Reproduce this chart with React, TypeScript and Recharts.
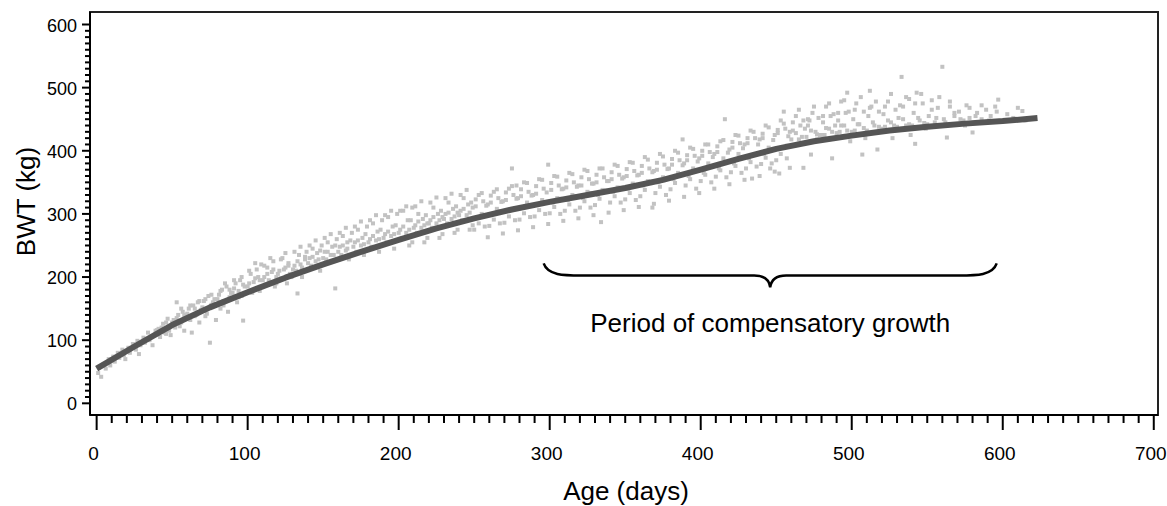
import {
  ComposedChart,
  ReferenceArea,
  ReferenceLine,
  Scatter,
  XAxis,
  YAxis,
} from "recharts"

// fitted growth curve
const fitAges = [0, 25, 50, 75, 100, 125, 150, 175, 200, 225, 250, 275, 300, 325, 350, 375, 400, 425, 450, 475, 500, 525, 550, 575, 600, 623]
const fitBwt = [55, 90, 124, 152, 176, 199, 220, 240, 259, 277, 293, 307, 319, 330, 341, 354, 370, 387, 403, 415, 424, 432, 438, 443, 447, 452]

// observed body weights [age, bwt]
const obsEarly: [number, number][] = [
  [1, 48], [2, 58], [3, 42], [5, 62], [6, 55], [8, 70], [9, 60],
  [11, 74], [12, 66], [14, 80], [15, 72], [17, 85], [18, 76], [19, 70],
  [21, 88], [22, 80], [24, 94], [26, 85], [27, 99], [29, 92], [28, 78],
  [31, 104], [32, 96], [34, 112], [35, 100], [37, 92], [38, 108], [39, 115],
  [41, 118], [42, 105], [44, 126], [45, 112], [47, 134], [48, 120], [49, 108],
  [51, 132], [52, 120], [53, 160], [54, 140], [56, 128], [57, 145], [58, 115], [59, 138],
  [61, 150], [62, 132], [63, 112], [64, 155], [66, 140], [67, 160], [68, 128], [69, 148],
  [71, 162], [72, 138], [73, 150], [74, 170], [75, 96], [76, 156], [78, 165], [79, 132],
  [81, 172], [82, 150], [83, 180], [84, 162], [86, 185], [87, 145], [88, 168], [89, 175],
  [91, 182], [92, 190], [93, 160], [94, 178], [95, 195], [96, 170], [98, 185], [97, 131],
  [101, 190], [102, 205], [103, 175], [105, 198], [106, 212], [107, 182], [108, 195], [109, 220],
  [111, 200], [112, 188], [113, 215], [114, 195], [116, 208], [117, 225], [118, 185], [119, 200],
  [121, 210], [122, 198], [123, 230], [125, 215], [126, 190], [127, 222], [128, 205], [133, 174],
  [131, 218], [132, 210], [134, 235], [135, 220], [136, 200], [138, 228], [139, 240],
  [141, 230], [142, 218], [143, 245], [145, 225], [146, 238], [148, 210], [149, 250],
  [151, 240], [152, 228], [153, 255], [155, 235], [156, 248], [158, 182], [159, 260],
  [161, 248], [162, 235], [163, 265], [165, 242], [166, 255], [167, 228], [169, 270],
  [171, 255], [172, 240], [173, 275], [175, 250], [176, 262], [177, 235], [179, 280],
  [181, 260], [182, 248], [183, 285], [185, 258], [186, 272], [187, 240], [189, 290],
  [191, 268], [192, 255], [193, 295], [195, 265], [196, 280], [197, 245], [199, 300],
]

const obsMid: [number, number][] = [
  [201, 275], [202, 262], [203, 305], [205, 270], [206, 290], [207, 250], [209, 310],
  [211, 282], [212, 270], [213, 300], [215, 278], [216, 292], [217, 255], [219, 285],
  [221, 290], [222, 278], [223, 310], [225, 285], [226, 300], [227, 262], [229, 295],
  [231, 300], [232, 285], [233, 318], [235, 292], [236, 308], [237, 270], [239, 302],
  [241, 305], [242, 290], [243, 325], [245, 298], [246, 315], [247, 275], [249, 310],
  [251, 312], [252, 295], [253, 330], [255, 300], [256, 320], [257, 280], [259, 315],
  [261, 318], [262, 300], [263, 335], [265, 308], [266, 325], [267, 285], [269, 320],
  [271, 322], [272, 305], [273, 340], [275, 372], [276, 330], [277, 290], [279, 325], [278, 345],
  [281, 328], [282, 310], [283, 350], [285, 318], [286, 335], [287, 295], [289, 330],
  [291, 332], [292, 315], [293, 355], [295, 322], [296, 340], [297, 300], [299, 378],
  [301, 338], [302, 318], [303, 360], [305, 325], [306, 345], [307, 300], [309, 340],
  [311, 342], [312, 322], [313, 365], [315, 330], [316, 350], [317, 305], [319, 345],
  [321, 345], [322, 325], [323, 370], [325, 335], [326, 355], [327, 310], [329, 348],
  [331, 350], [332, 330], [333, 372], [335, 338], [336, 358], [334, 287], [339, 352],
  [341, 355], [342, 335], [343, 378], [345, 342], [346, 362], [347, 318], [349, 358],
  [351, 360], [352, 340], [353, 382], [355, 348], [356, 368], [357, 322], [359, 362],
  [361, 365], [362, 345], [363, 390], [365, 352], [366, 372], [368, 310], [369, 368],
  [371, 370], [372, 350], [373, 395], [375, 358], [376, 378], [377, 330], [379, 372],
  [381, 378], [382, 355], [383, 400], [385, 365], [386, 385], [388, 418], [389, 380],
  [391, 385], [392, 360], [393, 405], [395, 372], [396, 392], [397, 340], [399, 388],
]

const obsLate: [number, number][] = [
  [401, 392], [402, 365], [403, 410], [405, 380], [406, 398], [407, 350], [409, 395],
  [411, 398], [412, 372], [413, 415], [415, 388], [416, 450], [417, 358], [419, 402],
  [421, 405], [422, 380], [423, 425], [425, 395], [426, 412], [427, 365], [429, 410],
  [431, 412], [432, 388], [433, 432], [434, 356], [436, 420], [437, 375], [439, 418],
  [441, 420], [442, 395], [443, 440], [445, 405], [446, 372], [447, 380], [449, 425],
  [451, 428], [452, 364], [453, 448], [455, 462], [456, 435], [457, 388], [459, 430],
  [461, 432], [462, 408], [463, 455], [465, 418], [466, 440], [468, 373], [469, 435],
  [471, 440], [472, 448], [473, 394], [474, 460], [476, 430], [477, 418], [479, 425],
  [481, 445], [482, 425], [483, 470], [485, 435], [486, 455], [487, 388], [489, 440],
  [491, 448], [492, 430], [493, 478], [495, 440], [496, 460], [497, 492], [499, 415],
  [501, 450], [502, 432], [503, 475], [505, 442], [507, 394], [508, 462], [509, 420],
  [511, 455], [512, 495], [513, 470], [515, 440], [517, 402], [518, 462], [519, 430],
  [521, 458], [522, 438], [524, 478], [526, 445], [527, 420], [529, 465],
  [531, 452], [533, 517], [534, 470], [536, 440], [538, 482], [539, 425],
  [541, 460], [542, 411], [543, 492], [545, 448], [547, 475], [549, 435],
  [551, 455], [553, 480], [555, 445], [557, 468], [559, 440],
  [560, 533], [561, 450], [563, 421], [565, 470], [568, 455],
  [571, 462], [574, 448], [576, 472], [578, 452],
  [580, 429], [583, 460], [586, 450], [589, 465],
  [592, 455], [595, 470], [597, 481],
  [603, 458], [607, 452], [610, 468], [613, 463], [615, 448],
]

// second batch of animals
const obsBatch2: [number, number][] = [
  [40, 116], [43, 120], [46, 110], [46, 128], [48, 115],
  [50, 128], [53, 135], [55, 122], [56, 150], [58, 140],
  [60, 142], [62, 155], [65, 138], [65, 150], [68, 162],
  [70, 152], [72, 165], [73, 142], [76, 172], [77, 160],
  [80, 165], [82, 178], [84, 155], [85, 190], [88, 180],
  [90, 175], [91, 195], [94, 168], [96, 200], [97, 188],
  [100, 185], [101, 210], [104, 192], [105, 222], [107, 200], [108, 178],
  [110, 195], [111, 218], [113, 205], [115, 230], [117, 212], [119, 190],
  [120, 205], [122, 228], [124, 212], [125, 238], [127, 218], [129, 200],
  [130, 212], [131, 240], [133, 225], [135, 248], [136, 215], [138, 232],
  [140, 222], [141, 250], [143, 232], [145, 258], [147, 228], [148, 242],
  [150, 230], [151, 262], [153, 240], [155, 268], [157, 235], [158, 250],
  [160, 240], [161, 270], [163, 250], [165, 278], [166, 245], [168, 258],
  [170, 248], [171, 280], [173, 258], [175, 288], [177, 252], [178, 268],
  [180, 255], [181, 290], [183, 265], [185, 298], [187, 260], [188, 275],
  [190, 262], [191, 298], [193, 272], [195, 305], [197, 268], [198, 282],
  [200, 270], [201, 305], [203, 280], [205, 312], [207, 275], [208, 290], [209, 255],
  [210, 278], [211, 312], [213, 288], [215, 320], [217, 282], [218, 298], [219, 262],
  [220, 285], [221, 318], [223, 295], [225, 326], [227, 290], [228, 305], [229, 268],
  [230, 292], [231, 325], [233, 302], [235, 332], [237, 296], [238, 312], [239, 275],
  [240, 298], [241, 330], [243, 308], [245, 338], [247, 302], [248, 318], [249, 282],
  [250, 275], [251, 323], [253, 285], [255, 333], [257, 298], [258, 313], [259, 263],
  [260, 281], [261, 329], [263, 291], [265, 339], [267, 304], [268, 319], [269, 269],
  [270, 286], [271, 334], [273, 296], [275, 344], [277, 309], [278, 324], [279, 274],
  [280, 291], [281, 339], [283, 301], [285, 349], [287, 314], [288, 329], [289, 279],
  [290, 296], [291, 344], [293, 306], [295, 354], [297, 319], [298, 334], [299, 284],
  [300, 301], [301, 349], [303, 311], [305, 359], [307, 324], [308, 339], [309, 289],
  [310, 305], [311, 353], [313, 315], [315, 363], [317, 328], [318, 343], [319, 293],
  [320, 310], [321, 358], [323, 320], [325, 368], [327, 333], [328, 348], [329, 298],
  [330, 314], [331, 362], [333, 324], [335, 372], [337, 337], [338, 352], [339, 302],
  [340, 318], [341, 366], [343, 328], [345, 376], [347, 341], [348, 356], [349, 306],
  [350, 323], [351, 371], [353, 333], [355, 381], [357, 346], [358, 361], [359, 311],
  [360, 328], [361, 376], [363, 338], [365, 386], [367, 351], [368, 366], [369, 316],
  [370, 333], [371, 381], [373, 343], [375, 391], [377, 356], [378, 371], [379, 321],
  [380, 339], [381, 387], [383, 349], [385, 397], [387, 362], [388, 377], [389, 327],
  [390, 345], [391, 393], [393, 355], [395, 403], [397, 368], [398, 383], [399, 333],
  [400, 352], [401, 400], [403, 362], [405, 410], [407, 375], [408, 390], [409, 340],
  [410, 359], [411, 407], [413, 369], [415, 417], [417, 382], [418, 397], [419, 347],
  [420, 366], [421, 414], [423, 376], [425, 424], [427, 389], [428, 404], [429, 354],
  [430, 372], [431, 420], [433, 382], [435, 430], [437, 395], [438, 410], [439, 360],
  [440, 379], [441, 427], [443, 389], [445, 437], [447, 402], [448, 417], [449, 367],
  [450, 385], [451, 433], [453, 395], [455, 443], [457, 408], [458, 423], [459, 373],
  [460, 418], [461, 445], [463, 428], [465, 465], [467, 422], [468, 448],
  [470, 422], [471, 450], [473, 432], [475, 470], [477, 426], [478, 452],
  [480, 425], [481, 455], [483, 436], [485, 475], [487, 430], [488, 458],
  [490, 428], [491, 460], [493, 440], [495, 480], [497, 432], [498, 462],
  [500, 430], [502, 465], [504, 442], [506, 485], [508, 436],
  [510, 432], [512, 468], [514, 445], [516, 478], [518, 438],
  [520, 435], [522, 470], [524, 448], [526, 490], [528, 440],
  [530, 438], [532, 472], [534, 450], [536, 485], [538, 442],
  [540, 440], [542, 475], [544, 452], [546, 490], [548, 444],
  [550, 442], [553, 465], [556, 452], [558, 485],
  [562, 445], [565, 478], [568, 460],
  [572, 450], [575, 440], [578, 468],
  [582, 455], [586, 472],
  [591, 448], [596, 462],
]

const xMajor = [0, 100, 200, 300, 400, 500, 600, 700]
const yMajor = [0, 100, 200, 300, 400, 500, 600]
const xTicks = Array.from({ length: 71 }, (_, i) => i * 10)
const yTicks = Array.from({ length: 61 }, (_, i) => i * 10)

const xDomain: [number, number] = [-4.4, 702.8]
const yDomain: [number, number] = [-18.5, 619.8]

const observed = [...obsEarly, ...obsMid, ...obsLate, ...obsBatch2].map(([age, bwt]) => ({ age, bwt }))
const fitted = fitAges.map((age, i) => ({ age, bwt: fitBwt[i] }))

const font = "'Liberation Sans', Arial, sans-serif"

function XTick({ x, y, payload }: any) {
  const major = xMajor.includes(payload.value)
  return (
    <g>
      <line x1={x} x2={x} y1={y} y2={y + (major ? 15 : 8)} stroke="#000" strokeWidth={2} />
      {major && (
        <text x={x - 3} y={y + 45} textAnchor="middle" fontSize={19} fontFamily={font} fill="#000">
          {payload.value}
        </text>
      )}
    </g>
  )
}

function YTick({ x, y, payload }: any) {
  const major = yMajor.includes(payload.value)
  return (
    <g>
      <line x1={x - (major ? 8 : 5)} x2={x} y1={y} y2={y} stroke="#000" strokeWidth={2} />
      {major && (
        <text x={x - 13} y={y + 7} textAnchor="end" fontSize={18} fontFamily={font} fill="#000">
          {payload.value}
        </text>
      )}
    </g>
  )
}

function Dot({ cx, cy }: any) {
  return <rect x={cx - 2} y={cy - 2} width={4} height={4} fill="#c2c2c2" />
}

const NoDot = () => <g />

function Brace({ x1, y1, x2, y2 }: any) {
  const xm = (x1 + x2) / 2
  const yh = (y1 + y2) / 2
  const d = `M ${x1} ${y1} C ${x1 + 4} ${yh}, ${x1 + 20} ${yh}, ${x1 + 38} ${yh}
    L ${xm - 16} ${yh} C ${xm - 6} ${yh}, ${xm - 1} ${yh + 4}, ${xm} ${y2}
    C ${xm + 1} ${yh + 4}, ${xm + 6} ${yh}, ${xm + 16} ${yh}
    L ${x2 - 38} ${yh} C ${x2 - 20} ${yh}, ${x2 - 4} ${yh}, ${x2} ${y1}`
  return (
    <g>
      <path d={d} fill="none" stroke="#000" strokeWidth={2.5} />
      <text x={xm} y={y2 + 45} textAnchor="middle" fontSize={26} fontFamily={font} fill="#000">
        Period of compensatory growth
      </text>
    </g>
  )
}

export default function App() {
  return (
    <div style={{ position: "absolute", left: 0, top: 0, width: 1167, height: 506, background: "#fff" }}>
      <ComposedChart width={1167} height={506} margin={{ top: 12, right: 9, left: 10, bottom: 31 }}>
        <XAxis
          type="number"
          dataKey="age"
          domain={xDomain}
          ticks={xTicks}
          interval={0}
          allowDataOverflow
          tickLine={false}
          tickSize={0}
          tickMargin={0}
          tick={<XTick />}
          axisLine={{ stroke: "#000", strokeWidth: 2 }}
          height={60}
          label={{
            content: ({ viewBox }: any) => (
              <text
                x={viewBox.x + viewBox.width / 2 + 2}
                y={viewBox.y + 85}
                textAnchor="middle"
                fontSize={26}
                fontFamily={font}
                fill="#000"
              >
                Age (days)
              </text>
            ),
          }}
        />
        <YAxis
          type="number"
          domain={yDomain}
          ticks={yTicks}
          interval={0}
          allowDataOverflow
          tickLine={false}
          tickSize={0}
          tickMargin={0}
          tick={<YTick />}
          axisLine={{ stroke: "#000", strokeWidth: 2 }}
          width={80}
          label={{
            content: ({ viewBox }: any) => {
              const cx = 34.5
              const cy = viewBox.y + viewBox.height / 2 - 12
              return (
                <text
                  x={cx}
                  y={cy}
                  transform={`rotate(-90, ${cx}, ${cy})`}
                  textAnchor="middle"
                  fontSize={26}
                  fontFamily={font}
                  fill="#000"
                >
                  BWT (kg)
                </text>
              )
            },
          }}
        />
        <ReferenceArea
          x1={xDomain[0]}
          x2={xDomain[1]}
          y1={yDomain[0]}
          y2={yDomain[1]}
          fill="none"
          stroke="#222"
          strokeWidth={2}
          ifOverflow="visible"
        />
        <Scatter data={observed} dataKey="bwt" shape={<Dot />} isAnimationActive={false} />
        <Scatter
          data={fitted}
          dataKey="bwt"
          shape={<NoDot />}
          line={{ stroke: "#555", strokeWidth: 6, strokeLinejoin: "round" }}
          lineType="joint"
          isAnimationActive={false}
        />
        <ReferenceLine
          segment={[
            { x: 296, y: 221.5 },
            { x: 596, y: 183.5 },
          ]}
          ifOverflow="visible"
          shape={(p: any) => <Brace {...p} />}
        />
      </ComposedChart>
    </div>
  )
}
